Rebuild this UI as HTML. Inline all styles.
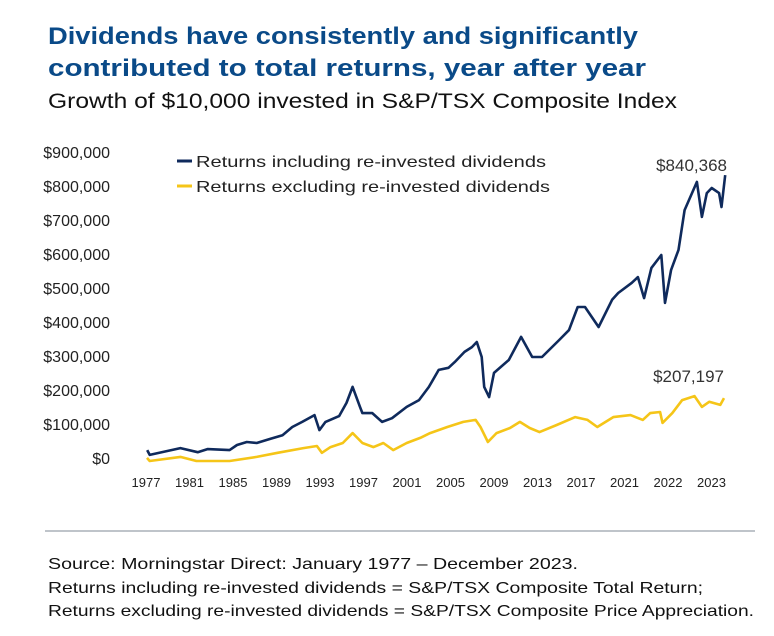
<!DOCTYPE html>
<html><head><meta charset="utf-8"><style>
html,body{margin:0;padding:0;background:#fff;}
svg{display:block;font-family:"Liberation Sans",sans-serif;}
</style></head><body>
<svg id="chart" width="774" height="636" viewBox="0 0 774 636">
<text x="48" y="44" font-size="24" font-weight="bold" fill="#0a4a88" textLength="590" lengthAdjust="spacingAndGlyphs">Dividends have consistently and significantly</text>
<text x="48" y="76" font-size="24" font-weight="bold" fill="#0a4a88" textLength="598" lengthAdjust="spacingAndGlyphs">contributed to total returns, year after year</text>
<text x="48" y="108" font-size="21" fill="#111" textLength="629" lengthAdjust="spacingAndGlyphs">Growth of $10,000 invested in S&amp;P/TSX Composite Index</text>
<g id="yaxis"></g>
<g id="xaxis"></g>
<g id="series"></g>
<g>
<line x1="177" y1="161" x2="192" y2="161" stroke="#0f2a5c" stroke-width="3"/>
<text x="196" y="167" font-size="16" fill="#222" textLength="350" lengthAdjust="spacingAndGlyphs">Returns including re-invested dividends</text>
<line x1="177" y1="186" x2="192" y2="186" stroke="#f5c518" stroke-width="3"/>
<text x="196" y="192" font-size="16" fill="#222" textLength="354" lengthAdjust="spacingAndGlyphs">Returns excluding re-invested dividends</text>
</g>
<text x="727" y="171" font-size="17" fill="#333" text-anchor="end">$840,368</text>
<text x="724" y="382" font-size="17" fill="#333" text-anchor="end">$207,197</text>
<line x1="45" y1="531" x2="755" y2="531" stroke="#aab0b8" stroke-width="1.5"/>
<g font-size="16" fill="#111">
<text x="48" y="569" textLength="530" lengthAdjust="spacingAndGlyphs">Source: Morningstar Direct: January 1977 – December 2023.</text>
<text x="48" y="593" textLength="655" lengthAdjust="spacingAndGlyphs">Returns including re-invested dividends = S&amp;P/TSX Composite Total Return;</text>
<text x="48" y="616" textLength="706" lengthAdjust="spacingAndGlyphs">Returns excluding re-invested dividends = S&amp;P/TSX Composite Price Appreciation.</text>
</g>
</svg>
<script>
const yTicks = [0,100,200,300,400,500,600,700,800,900];
const xLabels = ["1977","1981","1985","1989","1993","1997","2001","2005","2009","2013","2017","2021","2022","2023"];
const incYears = [1977.1,1977.3,1979.8,1981.2,1982.0,1983.8,1984.4,1985.2,1986.0,1987.1,1988.1,1988.9,1989.7,1990.7,1991.1,1991.6,1992.7,1993.3,1993.8,1994.4,1994.6,1995.4,1996.2,1997.0,1998.2,1999.2,2000.0,2000.8,2001.6,2002.1,2002.9,2003.5,2003.9,2004.3,2004.5,2004.9,2005.3,2006.5,2007.5,2008.4,2009.2,2010.6,2011.4,2012.1,2012.7,2013.8,2014.9,2015.4,2016.5,2017.0,2017.5,2018.1,2018.9,2019.2,2019.7,2020.3,2020.8,2021.4,2021.8,2022.2,2022.6,2023.0,2023.6,2023.8,2024.1];
const incValues = [32,18,38,26,35,32,47,56,53,65,76,100,115,135,91,115,132,171,218,159,141,141,115,126,159,179,218,268,274,291,321,335,350,306,218,188,259,297,365,306,306,356,385,453,453,394,474,494,524,541,479,568,606,465,562,621,738,788,821,718,788,803,788,747,841];
const excYears = [1977.08,1977.3,1979.8,1981.1,1983.8,1986.0,1987.7,1989.8,1990.9,1991.3,1992.0,1993.0,1993.8,1994.6,1995.5,1996.3,1997.1,1998.2,1999.3,2000.1,2001.5,2002.8,2003.8,2004.2,2004.8,2005.5,2006.6,2007.4,2008.2,2009.0,2010.4,2011.9,2012.9,2013.7,2015.0,2016.4,2017.4,2018.0,2018.8,2019.0,2019.8,2020.6,2021.6,2022.2,2022.8,2023.7,2024.0];
const excValues = [9,0,12,0,0,12,24,38,44,24,41,53,82,53,41,53,32,53,68,82,100,115,121,100,56,82,97,115,97,85,106,129,121,100,129,135,121,141,144,112,141,179,191,159,174,165,185];

const NS = "http://www.w3.org/2000/svg";
const y = v => 461 - v * 0.34;
const x = yr => 146 + (yr - 1977) * 578 / 47;
const xLab = i => 146 + i * 43.5;

const ya = document.getElementById('yaxis');
yTicks.forEach(t => {
  const el = document.createElementNS(NS,'text');
  
  
  el.setAttribute('x', 110); el.setAttribute('y', y(t) + 3);
  el.setAttribute('text-anchor','end'); el.setAttribute('font-size','16'); el.setAttribute('fill','#222');
  el.textContent = t === 0 ? '$0' : '$' + t + ',000';
  ya.appendChild(el);
});
const xa = document.getElementById('xaxis');
xLabels.forEach((l,i) => {
  const el = document.createElementNS(NS,'text');
  
  
  el.setAttribute('x', xLab(i)); el.setAttribute('y', 487);
  el.setAttribute('text-anchor','middle'); el.setAttribute('font-size','13'); el.setAttribute('fill','#222');
  el.textContent = l;
  xa.appendChild(el);
});
const sg = document.getElementById('series');
function line(xs, vs, color, name){
  const p = document.createElementNS(NS,'path');
  
  
  p.setAttribute('d', xs.map((yr,i) => (i?'L':'M') + x(yr).toFixed(1) + ',' + y(vs[i]).toFixed(1)).join(''));
  p.setAttribute('fill','none'); p.setAttribute('stroke',color);
  p.setAttribute('stroke-width','2.6'); p.setAttribute('stroke-linejoin','round');
  sg.appendChild(p);
}
line(excYears, excValues, '#f5c518', 'excluding-dividends-line');
line(incYears, incValues, '#0f2a5c', 'including-dividends-line');
</script>
</body></html>
